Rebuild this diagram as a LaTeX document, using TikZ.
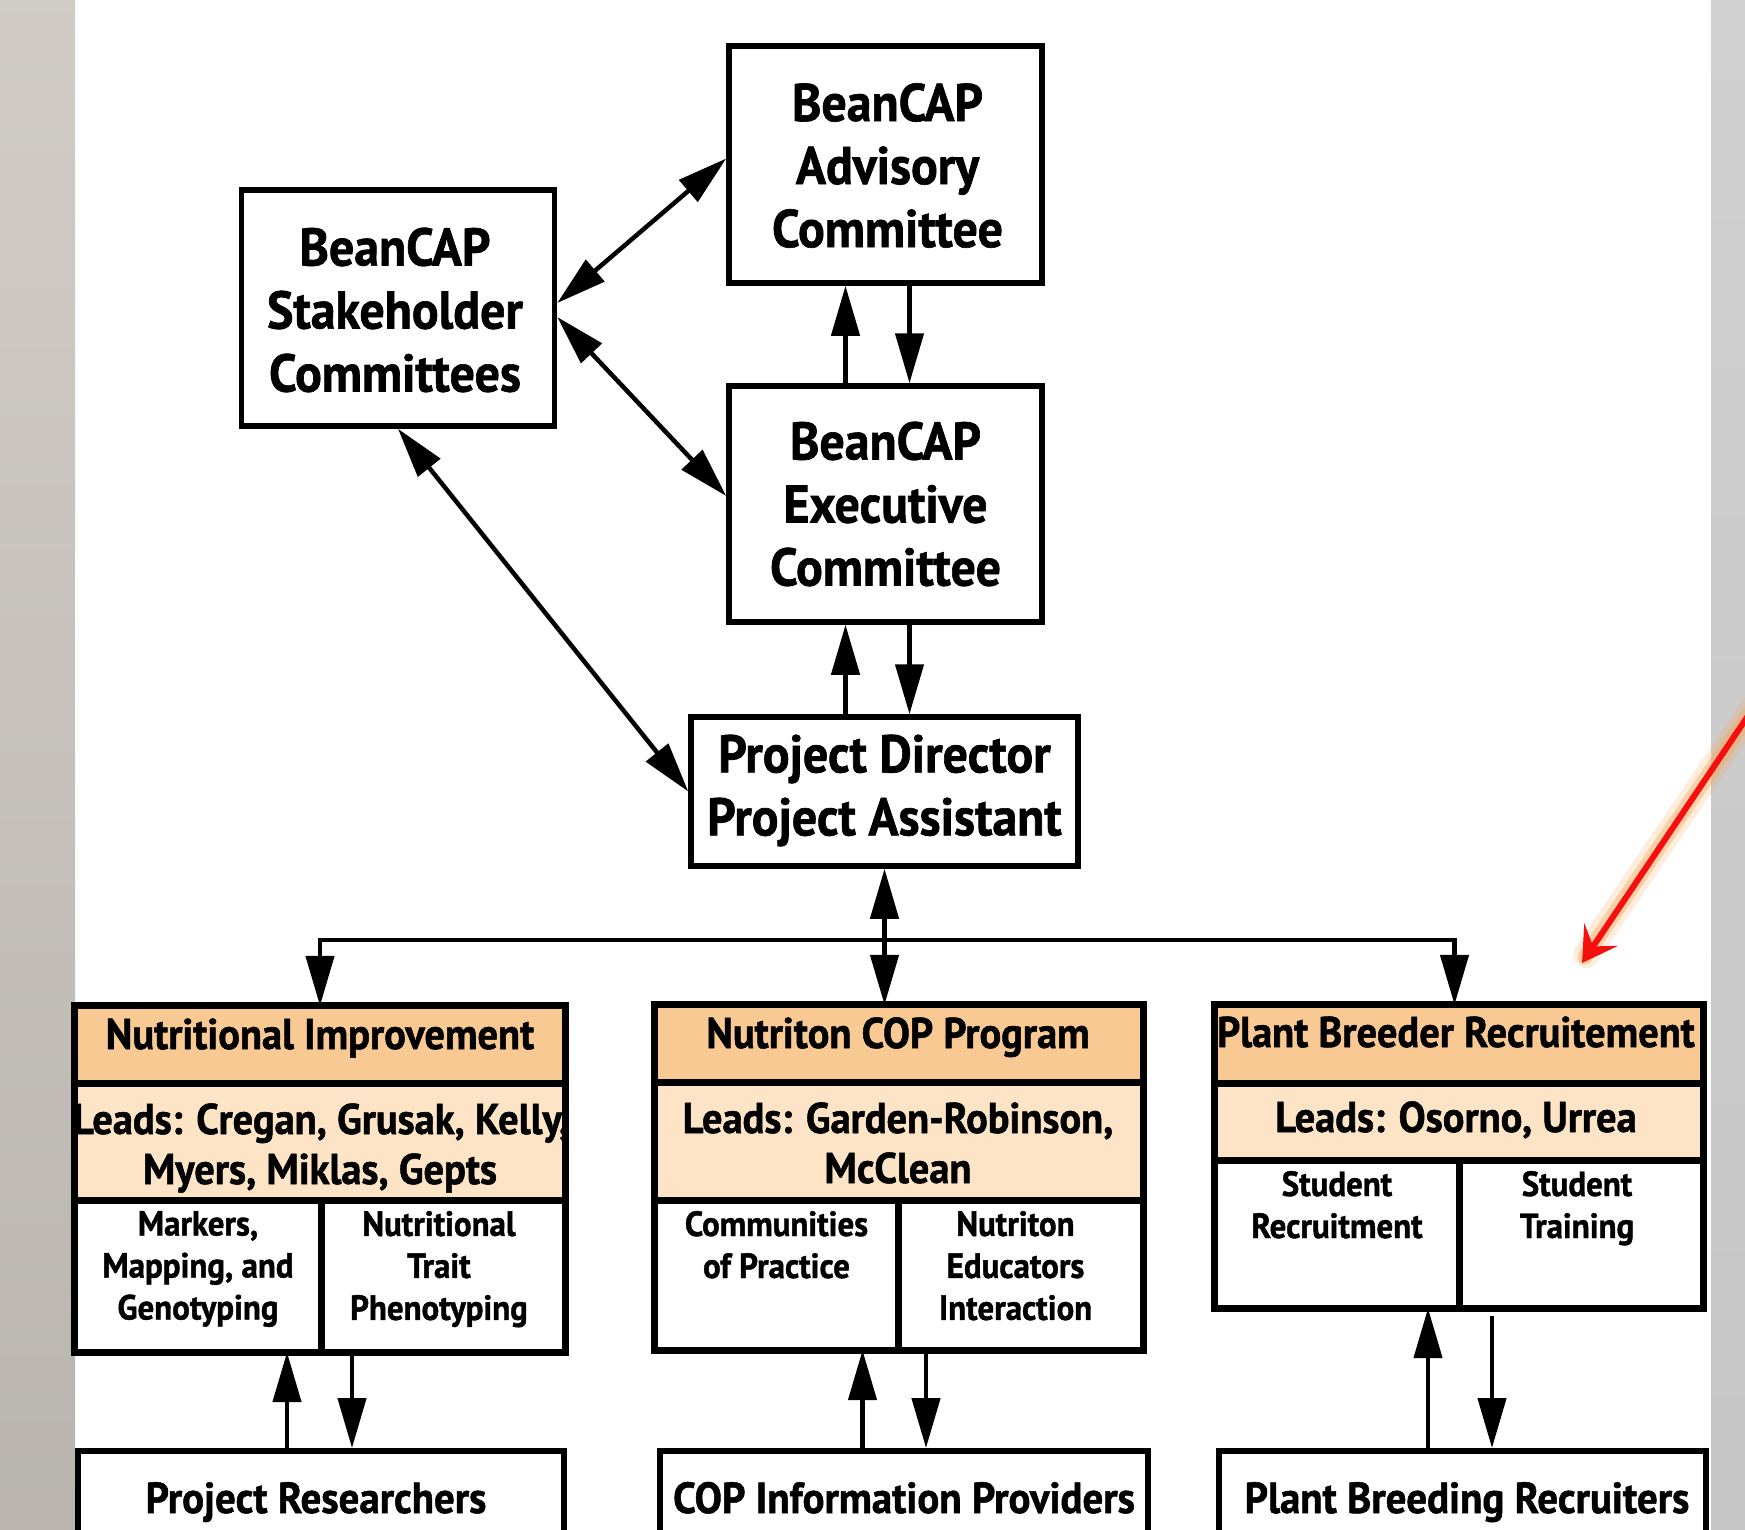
\documentclass[tikz,border=0pt]{standalone}
\usepackage{fontspec}
\newfontfamily\dfont{PT Sans}[FakeStretch=0.94,FakeBold=1.2]
\usetikzlibrary{arrows.meta,calc}
\definecolor{hdr}{RGB}{249,201,148}
\definecolor{lds}{RGB}{253,228,198}
\definecolor{redar}{RGB}{245,15,15}
\definecolor{glow}{RGB}{250,165,80}
\definecolor{sideL}{RGB}{206,201,195}
\definecolor{sideR}{RGB}{208,208,208}
\begin{document}
\begin{tikzpicture}[x=1pt,y=-1pt,
  box/.style={draw=black,line width=5.5pt,fill=white,inner sep=0pt},
  bottombox/.style={draw=black,line width=6pt,fill=white,inner sep=0pt},
  band/.style={inner sep=0pt,draw=none},
  gline/.style={line width=7pt,draw=black},
  tbig/.style={font={\dfont\bfseries\fontsize{53}{63}\selectfont},align=center,inner sep=0pt},
  thead/.style={font={\dfont\bfseries\fontsize{43}{51}\selectfont},align=center,inner sep=0pt},
  tbot/.style={font={\dfont\bfseries\fontsize{43.5}{51}\selectfont},align=center,inner sep=0pt,anchor=base},
  tsub/.style={font={\dfont\bfseries\fontsize{35}{42}\selectfont},align=center,inner sep=0pt},
  conn/.style={line width=4.5pt,draw=black},
  arr/.style={conn,-{Triangle[length=50pt,width=28pt]}},
  dbl/.style={conn,{Triangle[length=50pt,width=28pt]}-{Triangle[length=50pt,width=28pt]}}
]
\useasboundingbox (0,0) rectangle (1745,1529);
\clip (0,0) rectangle (1745,1529);
\fill[white] (0,0) rectangle (1745,1529);
\shade[top color=sideL!95!white, bottom color=sideL!90!black] (0,0) rectangle (75,1529);
\shade[top color=sideR, bottom color=sideR!95!black] (1711,0) rectangle (1745,1529);

% top boxes
\node[box,minimum width=313pt,minimum height=236pt] (stake) at (398,308) {};
\node[tbig] at ($(stake)+(-3,2)$) {BeanCAP\\Stakeholder\\Committees};
\node[box,minimum width=313pt,minimum height=237pt] (adv) at (885.5,164.5) {};
\node[tbig] at ($(adv)+(2,1)$) {BeanCAP\\Advisory\\Committee};
\node[box,minimum width=313pt,minimum height=236pt] (exec) at (885.5,504) {};
\node[tbig] at (exec) {BeanCAP\\Executive\\Committee};
\node[box,minimum width=387pt,minimum height=149pt] (pd) at (884.5,791.5) {};
\node[tbig] at ($(pd)+(0,-1)$) {Project Director\\Project Assistant};

% Nutritional Improvement group
\node[band,fill=hdr,minimum width=490pt,minimum height=77pt] (nh) at (320,1044.5) {};
\node[band,fill=lds,minimum width=490pt,minimum height=117pt] (nl) at (320,1141.5) {};
\node[band,fill=white,minimum width=246pt,minimum height=152pt] (ns1) at (198,1276) {};
\node[band,fill=white,minimum width=244pt,minimum height=152pt] (ns2) at (443,1276) {};
\node[thead,anchor=base] at (320,1049) {Nutritional Improvement};
\node[thead,anchor=base] at (321,1134) {Leads: Cregan, Grusak, Kelly,};
\node[thead,anchor=base] at (320,1184) {Myers, Miklas, Gepts};
\node[tsub,anchor=north] at ($(ns1.north)+(0,11)$) {Markers,\\Mapping, and\\Genotyping};
\node[tsub,anchor=north] at ($(ns2.north)+(-4,11)$) {Nutritional\\Trait\\Phenotyping};
\draw[gline] (nh.north west) rectangle (ns2.south east);
\draw[gline] (nh.south west) -- (nh.south east);
\draw[gline] (nl.south west) -- (nl.south east);
\draw[gline] (ns1.north east) -- (ns1.south east);

% Nutriton COP Program group
\node[band,fill=hdr,minimum width=488pt,minimum height=77pt] (ch) at (899,1043.5) {};
\node[band,fill=lds,minimum width=488pt,minimum height=118pt] (cl) at (899,1141) {};
\node[band,fill=white,minimum width=243pt,minimum height=150pt] (cs1) at (776.5,1275) {};
\node[band,fill=white,minimum width=245pt,minimum height=150pt] (cs2) at (1020.5,1275) {};
\node[thead,anchor=base] at (898,1048) {Nutriton COP Program};
\node[thead,anchor=base] at (898,1133) {Leads: Garden-Robinson,};
\node[thead,anchor=base] at (898,1183) {McClean};
\node[tsub,anchor=north] at ($(cs1.north)+(0,11)$) {Communities\\of Practice};
\node[tsub,anchor=north] at ($(cs2.north)+(-5,11)$) {Nutriton\\Educators\\Interaction};
\draw[gline] (ch.north west) rectangle (cs2.south east);
\draw[gline] (ch.south west) -- (ch.south east);
\draw[gline] (cl.south west) -- (cl.south east);
\draw[gline] (cs1.north east) -- (cs1.south east);

% Plant Breeder Recruitement group
\node[band,fill=hdr,minimum width=488pt,minimum height=78pt] (ph) at (1459,1044) {};
\node[band,fill=lds,minimum width=488pt,minimum height=77pt] (pl) at (1459,1121.5) {};
\node[band,fill=white,minimum width=244pt,minimum height=148pt] (ps1) at (1337,1234) {};
\node[band,fill=white,minimum width=244pt,minimum height=148pt] (ps2) at (1581,1234) {};
\node[thead,anchor=base] at (1456,1047) {Plant Breeder Recruitement};
\node[thead,anchor=base] at (1456,1132) {Leads: Osorno, Urrea};
\node[tsub,anchor=north] at ($(ps1.north)+(0,11)$) {Student\\Recruitment};
\node[tsub,anchor=north] at ($(ps2.north)+(-4,11)$) {Student\\Training};
\draw[gline] (ph.north west) rectangle (ps2.south east);
\draw[gline] (ph.south west) -- (ph.south east);
\draw[gline] (pl.south west) -- (pl.south east);
\draw[gline] (ps1.north east) -- (ps1.south east);

% bottom boxes
\node[bottombox,minimum width=486pt,minimum height=169pt] (pr) at (321,1535.5) {};
\node[tbot] at (316,1513) {Project Researchers};
\node[bottombox,minimum width=488pt,minimum height=169pt] (copi) at (904,1535.5) {};
\node[tbot] at (904,1513) {COP Information Providers};
\node[bottombox,minimum width=487pt,minimum height=169pt] (pbr) at (1462.5,1535.5) {};
\node[tbot] at (1467,1513) {Plant Breeding Recruiters};

% connectors among committees
\draw[dbl] ([yshift=5pt]stake.east) -- ([yshift=6pt]adv.west);
\draw[dbl] ([yshift=-9pt]stake.east) -- ([yshift=8pt]exec.west);
\draw[dbl] (stake.south) -- (pd.west);
\coordinate (ae1) at ($(exec.north)+(-40,0)$);
\coordinate (ae2) at ($(adv.south)+(24,0)$);
\draw[arr] (ae1) -- (ae1 |- adv.south);
\draw[arr] (ae2) -- (ae2 |- exec.north);
\coordinate (ep1) at ($(pd.north)+(-39,0)$);
\coordinate (ep2) at ($(exec.south)+(24,0)$);
\draw[arr] (ep1) -- (ep1 |- exec.south);
\draw[arr] (ep2) -- (ep2 |- pd.north);

% bus
\coordinate (busY) at (0,940);
\coordinate (busL) at (nh.north |- busY);
\coordinate (busR) at ($(ph.north |- busY)+(-4.5,0)$);
\coordinate (pc) at (pd.south |- ch.north);
\coordinate (phT) at (busR |- ph.north);
\draw[arr] (busR) -- (busL) -- (nh.north);
\draw[arr] (busL) -- (busR) -- (phT);
\draw[dbl] (pd.south) -- (pc);

% bottom connectors
\coordinate (n1) at ($(pr.north)+(-34,0)$);
\coordinate (n2) at ($(pr.north)+(31,0)$);
\draw[arr] (n1) -- (n1 |- ns1.south);
\draw[arr] (n2 |- ns2.south) -- (n2);
\coordinate (c1) at ($(copi.north)+(-41.5,0)$);
\coordinate (c2) at ($(copi.north)+(22,0)$);
\draw[arr] (c1) -- (c1 |- cs1.south);
\draw[arr] (c2 |- cs2.south) -- (c2);
\coordinate (p1) at ($(pbr.north)+(-34.5,0)$);
\coordinate (p2) at ($(pbr.north)+(29.5,0)$);
\coordinate (p2s) at ($(p2 |- ps2.south)+(0,8)$);
\draw[arr] (p1) -- (p1 |- ps1.south);
\draw[arr] (p2s) -- (p2);

% red pointer arrow
\coordinate (redS) at (1762,695);
\coordinate (redE) at (1582,963);
\draw[glow,opacity=0.2,line width=26pt,line cap=round] (redS) -- ($(redE)+(4,-8)$);
\draw[glow,opacity=0.4,line width=15pt,line cap=round] (redS) -- ($(redE)+(3,-6)$);
\draw[redar,line width=6pt,-{Stealth[length=34pt,width=40pt,inset=14pt]}] (redS) -- (redE);
\end{tikzpicture}
\end{document}
